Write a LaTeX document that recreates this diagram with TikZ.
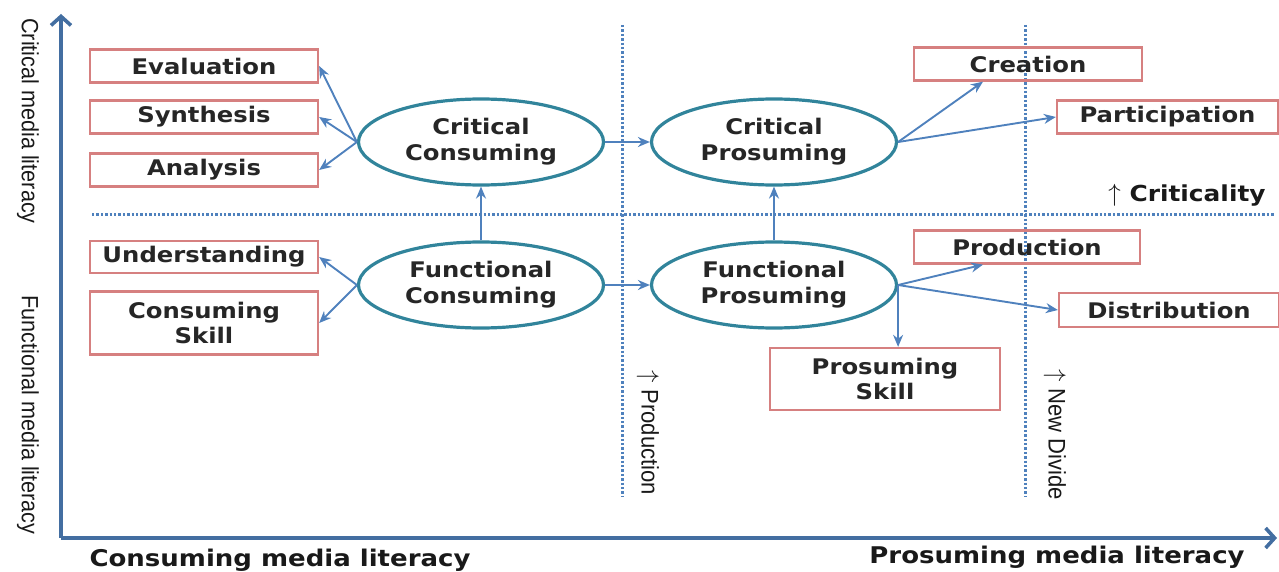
\documentclass[tikz,border=0pt]{standalone}
\usepackage{fontspec}
\usetikzlibrary{shapes.geometric,arrows.meta}
\newfontfamily\labelfont[FakeStretch=1.13]{DejaVu Sans}
\newfontfamily\sidefont[FakeStretch=0.92]{Liberation Sans}
\definecolor{boxred}{RGB}{214,128,128}
\definecolor{ringteal}{RGB}{49,132,155}
\definecolor{linkblue}{RGB}{79,129,189}
\begin{document}
\begin{tikzpicture}[x=1pt,y=-1pt,
 item/.style={draw=boxred,line width=2.3pt,minimum width=228pt,minimum height=33pt,inner sep=0pt,align=center,text=black!85,font=\labelfont\bfseries\fontsize{21.5}{25}\selectfont},
 ring/.style={ellipse,draw=ringteal,line width=3.2pt,minimum width=245pt,minimum height=86pt,inner sep=0pt,align=center,text=black!85,font=\labelfont\bfseries\fontsize{21.5}{26}\selectfont},
 link/.style={draw=linkblue,line width=1.9pt,-{Stealth[length=12pt,width=10pt]}},
 divider/.style={draw=linkblue,line width=3pt,dash pattern=on 2.4pt off 2pt},
 axis/.style={draw=linkblue!85!black,line width=3.6pt,-{Straight Barb[length=9pt,width=20pt]}},
 sidelabel/.style={rotate=-90,text=black!90,font=\sidefont\fontsize{23.5}{26}\selectfont},
 axislabel/.style={text=black!90,font=\labelfont\bfseries\fontsize{23}{26}\selectfont}]
\useasboundingbox(0,0)rectangle(1279,572);
%axis
\coordinate(O)at(61,538);
\coordinate(ytip)at(61,14);
\coordinate(xtip)at(1277,538);
\draw[axis](O)--(ytip);
\draw[axis](O)--(xtip);
\node[sidelabel](crit)at(28,121){Critical media literacy};
\node[sidelabel](func)at(28,415){Functional media literacy};
\node[axislabel](cons)at(280,560){Consuming media literacy};
\node[axislabel](pros)at(1057,557){Prosuming media literacy};
%dividers
\draw[divider](92,214)--(1275,214);
\foreach \x in {622,1025}{\draw[divider](\x,25)--(\x,497);}
\node[axislabel,font=\labelfont\bfseries\fontsize{22}{26}\selectfont](critlabel)at(1187,195){{\fontsize{28}{28}\selectfont$\uparrow$} Criticality};
\node[sidelabel,font=\sidefont\fontsize{24}{26}\selectfont](prodlabel)at(648,433){{\fontsize{28}{28}\selectfont$\uparrow$} Production};
\node[sidelabel,font=\sidefont\fontsize{24}{26}\selectfont](dividelabel)at(1055,435){{\fontsize{28}{28}\selectfont$\uparrow$} New Divide};
%consuming side
\node[ring](cc)at(481,142){Critical\\Consuming};
\node[ring](fc)at(481,285){Functional\\Consuming};
\node[item](eval)at(204,66){Evaluation};
\node[item](synth)at(204,117){Synthesis};
\node[item](anal)at(204,170){Analysis};
\node[item,minimum height=32pt](under)at(204,257){Understanding};
\node[item,minimum height=63pt](cskill)at(204,323){Consuming\\Skill};
%prosuming side
\node[ring](cp)at(774,142){Critical\\Prosuming};
\node[ring](fp)at(774,285){Functional\\Prosuming};
\node[item](creat)at(1028,64){Creation};
\node[item,minimum width=221pt](partic)at(1167.5,117){Participation};
\node[item,minimum width=226pt](prod)at(1027,247){Production};
\node[item,minimum width=220pt,minimum height=34pt](distr)at(1169,310){Distribution};
\node[item,minimum width=230pt,minimum height=62pt](pskill)at(885,379){Prosuming\\Skill};
%links
\foreach \b in {eval,synth,anal}{\draw[link](cc.west)--(\b.east);}
\foreach \b in {under,cskill}{\draw[link](fc.west)--(\b.east);}
\draw[link](fc.north)--(cc.south);
\draw[link](fp.north)--(cp.south);
\draw[link](cc.east)--(cp.west);
\draw[link](fc.east)--(fp.west);
\draw[link](cp.east)--([xshift=-45pt]creat.south);
\draw[link](cp.east)--(partic.west);
\draw[link](fp.east)--([xshift=-44pt]prod.south);
\draw[link](fp.east)--(distr.west);
\draw[link](fp.east)--(fp.east|-pskill.north);
\end{tikzpicture}
\end{document}
